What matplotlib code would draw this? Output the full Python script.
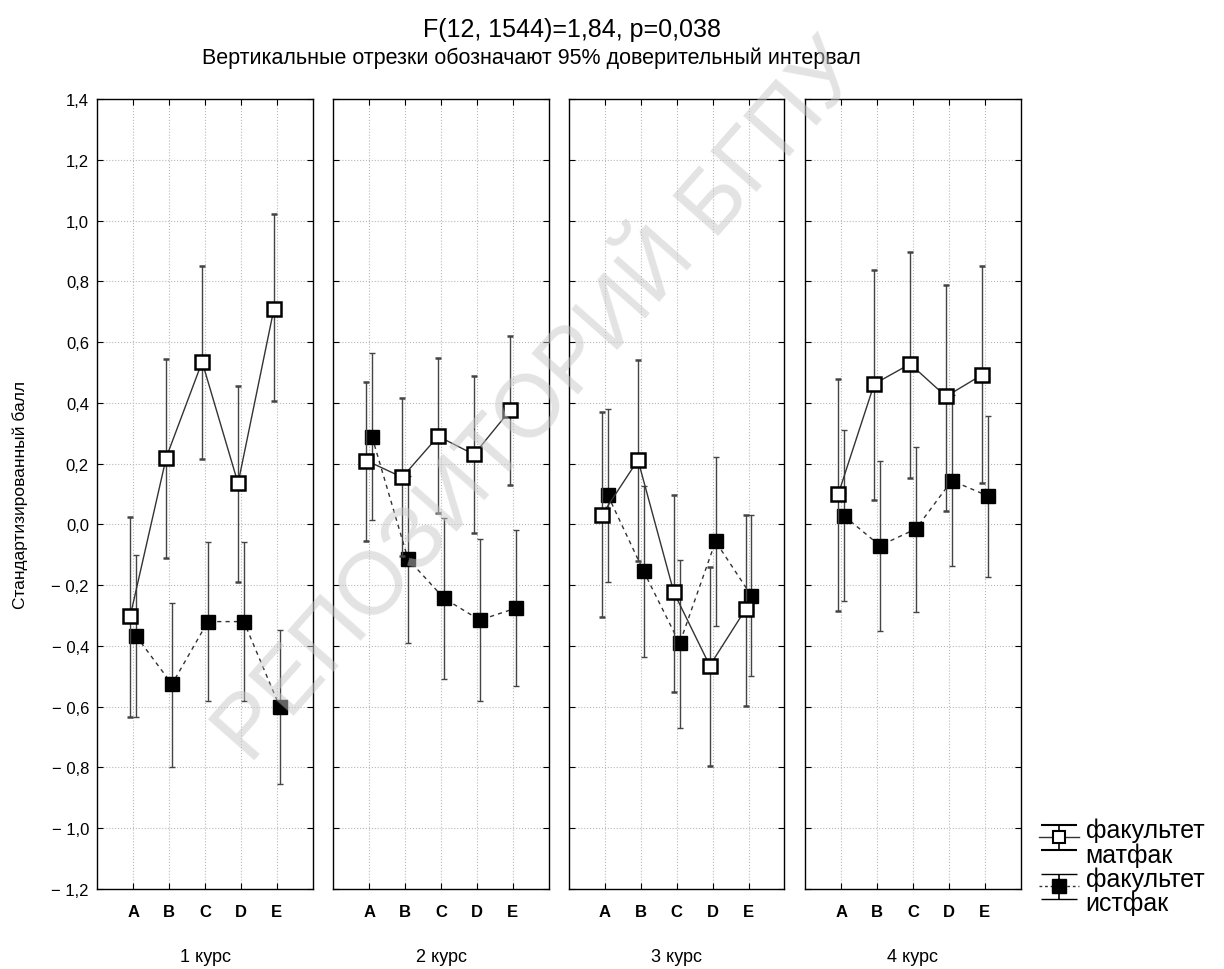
import matplotlib
matplotlib.use('Agg')
import matplotlib.pyplot as plt
from matplotlib.legend_handler import HandlerErrorbar
from matplotlib.container import ErrorbarContainer
import numpy as np

plt.rcParams['font.family'] = ['Liberation Sans', 'DejaVu Sans']

groups = ['1 курс', '2 курс', '3 курс', '4 курс']
cats = ['A', 'B', 'C', 'D', 'E']

# матфак
mat_mean = [[-0.30, 0.22, 0.535, 0.135, 0.71],
            [0.21, 0.155, 0.29, 0.23, 0.375],
            [0.032, 0.212, -0.224, -0.465, -0.279],
            [0.10, 0.462, 0.528, 0.421, 0.492]]
mat_lo = [[-0.635, -0.11, 0.215, -0.19, 0.405],
          [-0.055, -0.105, 0.036, -0.03, 0.13],
          [-0.304, -0.12, -0.553, -0.795, -0.597],
          [-0.286, 0.08, 0.152, 0.045, 0.135]]
mat_hi = [[0.025, 0.545, 0.85, 0.455, 1.02],
          [0.47, 0.415, 0.548, 0.487, 0.621],
          [0.369, 0.54, 0.097, -0.14, 0.032],
          [0.478, 0.837, 0.895, 0.789, 0.851]]

# истфак
ist_mean = [[-0.367, -0.526, -0.32, -0.32, -0.60],
            [0.288, -0.114, -0.243, -0.315, -0.276],
            [0.096, -0.155, -0.392, -0.056, -0.235],
            [0.028, -0.07, -0.015, 0.144, 0.094]]
ist_lo = [[-0.635, -0.797, -0.58, -0.58, -0.856],
          [0.014, -0.389, -0.509, -0.582, -0.531],
          [-0.19, -0.436, -0.67, -0.334, -0.50],
          [-0.253, -0.352, -0.29, -0.136, -0.172]]
ist_hi = [[-0.10, -0.26, -0.058, -0.058, -0.348],
          [0.563, 0.16, 0.021, -0.048, -0.019],
          [0.38, 0.127, -0.118, 0.223, 0.032],
          [0.31, 0.209, 0.255, 0.425, 0.357]]

yticks = np.round(np.arange(-1.2, 1.41, 0.2), 1) + 0.0
legend_labels = ['факультет\nматфак', 'факультет\nистфак']


class UpHandler(HandlerErrorbar):
    # put the legend symbol on the first line of a two-line label
    def create_artists(self, legend, orig_handle, xdescent, ydescent, width, height, fontsize, trans):
        return super().create_artists(legend, orig_handle, xdescent, ydescent - 0.45 * fontsize,
                                      width, height, fontsize, trans)


fig = plt.figure(figsize=(12.24, 9.70), dpi=100)
lefts = [0.0795, 0.2723, 0.4649, 0.6579]
x = np.arange(len(cats))
line_c = '#333333'
err_c = '#444444'
for k, g in enumerate(groups):
    ax = fig.add_axes([lefts[k], 0.0825, 0.176, 0.8144])
    m = np.array(mat_mean[k]); i = np.array(ist_mean[k])
    em = [m - np.array(mat_lo[k]), np.array(mat_hi[k]) - m]
    ei = [i - np.array(ist_lo[k]), np.array(ist_hi[k]) - i]
    ax.errorbar(x - 0.08, m, yerr=em, color=line_c, lw=1, ls='-',
                marker='s', ms=9.5, mfc='white', mec='black', mew=1.8,
                ecolor=err_c, elinewidth=1, capsize=2.2, capthick=1, zorder=4)
    ax.errorbar(x + 0.08, i, yerr=ei, color=line_c, lw=1, ls=(0, (3, 3)),
                marker='s', ms=10, mfc='black', mec='black', mew=1,
                ecolor=err_c, elinewidth=1, capsize=2.2, capthick=1, zorder=3)
    if k == 0:
        # legend proxies with wide caps (nan data, nothing drawn)
        p1 = ax.errorbar([np.nan], [np.nan], yerr=[0.1], color=line_c, lw=1, ls='-',
                         marker='s', ms=9, mfc='white', mec='black', mew=1.5,
                         ecolor='black', elinewidth=1.2, capsize=13, capthick=1.5)
        p2 = ax.errorbar([np.nan], [np.nan], yerr=[0.1], color=line_c, lw=1, ls=(0, (2, 2)),
                         marker='s', ms=9.5, mfc='black', mec='black', mew=1,
                         ecolor='black', elinewidth=1.2, capsize=13, capthick=1.5)
    ax.set_xlim(-1, 5)
    ax.set_ylim(-1.2, 1.4)
    ax.set_yticks(yticks)
    ax.set_xticks(x)
    ax.set_xticklabels(cats, fontweight='bold', fontsize=12)
    ax.grid(True, ls=':', color='#b8b8b8', lw=0.8)
    ax.tick_params(direction='in', top=True, right=True, length=4, width=0.8, pad=11)
    ax.tick_params(axis='y', pad=6)
    if k == 0:
        ax.set_yticklabels([('%.1f' % v).replace('.', ',').replace('-', '\u2212 ') for v in yticks],
                           fontsize=12)
    else:
        ax.set_yticklabels([])
    ax.set_xlabel(g, fontsize=13, labelpad=21)
    for s in ax.spines.values():
        s.set_linewidth(1)

fig.text(0.016, 0.49, 'Стандартизированный балл', rotation=90, va='center', ha='center', fontsize=12.5)
fig.text(0.467, 0.969, 'F(12, 1544)=1,84, p=0,038', ha='center', va='center', fontsize=18)
fig.text(0.434, 0.940, 'Вертикальные отрезки обозначают 95% доверительный интервал',
         ha='center', va='center', fontsize=15.5)

leg = fig.legend([p1, p2], legend_labels, loc='upper left',
                 bbox_to_anchor=(0.841, 0.166), frameon=False, fontsize=18,
                 handlelength=1.6, handletextpad=0.25, labelspacing=0.0, borderaxespad=0,
                 handler_map={ErrorbarContainer: UpHandler()})
for t in leg.get_texts():
    t.set_linespacing(0.98)

fig.text(0.441, 0.585, 'РЕПОЗИТОРИЙ БГПУ', rotation=48.5, ha='center', va='center',
         fontsize=64, color='#c8c8c8', alpha=0.5, zorder=10)

fig.savefig('out.png', dpi=100)
